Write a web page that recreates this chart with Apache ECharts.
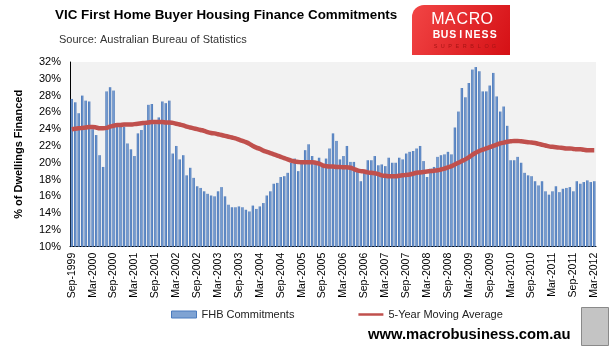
<!DOCTYPE html>
<html>
<head>
<meta charset="utf-8">
<script src="https://cdn.jsdelivr.net/npm/echarts@6/dist/echarts.min.js"></script>
<style>
html,body{margin:0;padding:0;background:#fff;}
#chart{width:615px;height:347px;}
</style>
</head>
<body>
<div id="chart"></div>
<script>
// Monthly data, Sep 1999 .. Mar 2012
var startYear = 1999, startMonth = 8; // Sep (0-based)
var monthNames = ['Jan','Feb','Mar','Apr','May','Jun','Jul','Aug','Sep','Oct','Nov','Dec'];

var fhbCommitments = [
27.6,27.2,25.9,28.0,27.4,27.3,24.0,23.3,20.9,19.5,
28.5,29.0,28.6,24.3,24.7,24.3,22.3,21.6,20.8,23.5,
23.9,24.9,26.9,27.0,24.6,25.4,27.3,27.1,27.4,21.1,
22.0,20.4,20.9,18.5,19.4,18.2,17.2,17.0,16.6,16.3,
16.1,16.0,16.6,17.1,16.0,15.0,14.7,14.7,14.8,14.7,
14.4,14.2,14.9,14.5,14.8,15.2,16.1,16.6,17.5,17.6,
18.3,18.4,18.8,20.0,20.5,19.0,19.9,21.5,22.2,20.8,
20.0,20.6,19.8,20.5,21.7,23.5,22.6,20.4,20.8,22.0,
20.1,20.1,19.1,17.8,18.8,20.3,20.3,20.8,19.7,19.8,
19.6,20.6,20.0,20.0,20.6,20.4,21.1,21.3,21.4,21.7,
22.0,20.2,18.3,19.3,19.5,20.7,20.9,21.0,21.3,21.0,
24.2,26.1,28.9,27.8,29.5,31.1,31.4,30.9,28.5,28.5,
29.2,30.7,27.9,26.1,26.7,24.4,20.3,20.3,20.7,20.0,
18.8,18.5,18.4,17.8,17.3,17.8,16.6,16.2,16.6,17.2,
16.5,16.9,17.0,17.1,16.6,17.8,17.5,17.7,17.9,17.7,
17.8
];

var movingAverage5y = [
24.0,24.05,24.1,24.15,24.2,24.25,24.25,24.2,24.1,24.1,
24.15,24.3,24.4,24.5,24.5,24.55,24.55,24.55,24.6,24.65,
24.7,24.75,24.8,24.85,24.85,24.85,24.85,24.8,24.8,24.75,
24.65,24.55,24.45,24.3,24.2,24.1,24.0,23.9,23.8,23.65,
23.55,23.5,23.4,23.3,23.2,23.1,23.0,22.9,22.75,22.6,
22.45,22.25,22.0,21.8,21.65,21.45,21.3,21.15,21.0,20.85,
20.7,20.55,20.4,20.25,20.15,20.1,20.05,20.05,20.05,20.05,
20.0,19.9,19.7,19.6,19.55,19.55,19.5,19.5,19.45,19.45,
19.4,19.25,19.1,19.0,18.95,18.85,18.8,18.75,18.65,18.5,
18.45,18.4,18.4,18.4,18.45,18.5,18.55,18.6,18.7,18.8,
18.85,18.9,18.95,19.0,19.05,19.1,19.2,19.3,19.45,19.6,
19.8,20.0,20.2,20.4,20.65,20.95,21.2,21.4,21.55,21.7,
21.85,22.0,22.15,22.3,22.4,22.5,22.55,22.6,22.6,22.55,
22.5,22.45,22.4,22.35,22.25,22.15,22.05,21.95,21.9,21.85,
21.8,21.75,21.7,21.7,21.65,21.6,21.6,21.55,21.5,21.5,
21.5
];

var yTicks = [10,12,14,16,18,20,22,24,26,28,30,32];

var categories = [];
for (var k = 0; k < fhbCommitments.length; k++) {
  var m = (startMonth + k) % 12;
  var y = startYear + Math.floor((startMonth + k) / 12);
  categories.push(monthNames[m] + '-' + y);
}

var FONT = '"Liberation Sans", Arial, sans-serif';
var chart = echarts.init(document.getElementById('chart'), null, {renderer: 'canvas'});

function spacedLetters(str, x0, step, yc, size, color, weight) {
  var out = [];
  for (var i = 0; i < str.length; i++) {
    out.push({type: 'text', x: x0 + i * step, y: yc, z: 20,
      style: {text: str[i], fill: color, font: (weight || 'normal') + ' ' + size + 'px ' + FONT,
        textAlign: 'center', textVerticalAlign: 'middle'}});
  }
  return out;
}

var graphics = [
  {type: 'text', left: 55, top: 9, style: {text: 'VIC First Home Buyer Housing Finance Commitments', fill: '#000', font: 'bold 13.4px ' + FONT}},
  {type: 'text', left: 59, top: 34, style: {text: 'Source: Australian Bureau of Statistics', fill: '#333', font: 'normal 11px ' + FONT}},
  {type: 'rect', left: 412, top: 5, z: 10, shape: {width: 98, height: 50, r: [12, 0, 0, 0]},
    style: {fill: new echarts.graphic.LinearGradient(0, 0, 1, 1, [{offset: 0, color: '#F24545'}, {offset: 1, color: '#D51015'}])}},
  {type: 'rect', left: 581, top: 307, shape: {width: 27, height: 38}, style: {fill: '#C4C4C4', stroke: '#8A8A8A', lineWidth: 1}},
  {type: 'text', left: 368, top: 327, style: {text: 'www.macrobusiness.com.au', fill: '#000', font: 'bold 14.8px ' + FONT}}
];
graphics = graphics.concat(spacedLetters('MACRO', 438, 12.2, 20, 16, '#fff', 'normal'));
graphics = graphics.concat(spacedLetters('BUSINESS', 436.5, 8.1, 35, 10.5, '#fff', 'bold'));
graphics = graphics.concat(spacedLetters('SUPERBLOG', 435.5, 7.3, 46, 5.5, '#A81515', 'normal'));

chart.setOption({
  animation: false,
  backgroundColor: '#fff',
  textStyle: {fontFamily: FONT},
  graphic: graphics,
  grid: {left: 70, top: 62, width: 526, height: 184.7, show: true, backgroundColor: '#F2F2F2', borderWidth: 0, containLabel: false},
  legend: {
    left: 166, top: 304, itemWidth: 25, itemHeight: 7, itemGap: 64,
    textStyle: {fontSize: 11, color: '#222', fontFamily: FONT},
    data: [
      {name: 'FHB Commitments', icon: 'rect', itemStyle: {color: '#7FA3D3', borderColor: '#4A7BBE', borderWidth: 1}},
      {name: '5-Year Moving Average', icon: 'path://M0,0 L30,0 L30,3 L0,3 Z', itemStyle: {color: '#C0504D'}}
    ]
  },
  xAxis: {
    type: 'category', data: categories, boundaryGap: true,
    axisLine: {show: true, lineStyle: {color: '#000', width: 1}},
    axisTick: {show: false},
    axisLabel: {interval: 5, rotate: 90, margin: 6, fontSize: 10.5, color: '#000', fontFamily: FONT},
    splitLine: {show: false}
  },
  yAxis: {
    type: 'value', min: yTicks[0], max: yTicks[yTicks.length - 1], interval: 2,
    name: '% of Dwellings Financed', nameLocation: 'middle', nameGap: 46,
    nameTextStyle: {fontSize: 11, fontWeight: 'bold', color: '#000', fontFamily: FONT},
    axisLine: {show: true, lineStyle: {color: '#000', width: 1}},
    axisTick: {show: false},
    axisLabel: {formatter: '{value}%', fontSize: 11, color: '#000', margin: 9, fontFamily: FONT},
    splitLine: {show: false}
  },
  series: [
    {
      name: 'FHB Commitments', type: 'bar', data: fhbCommitments, barCategoryGap: '32%',
      itemStyle: {
        color: new echarts.graphic.LinearGradient(0, 0, 1, 0, [
          {offset: 0, color: '#3A69AE'}, {offset: 0.5, color: '#759DD3'}, {offset: 1, color: '#3A69AE'}
        ]),
        borderWidth: 0
      }
    },
    {
      name: '5-Year Moving Average', type: 'line', data: movingAverage5y, smooth: true,
      symbol: 'none', z: 5,
      lineStyle: {color: '#C0504D', width: 4.5},
      itemStyle: {color: '#C0504D'}
    }
  ]
});
</script>
</body>
</html>
